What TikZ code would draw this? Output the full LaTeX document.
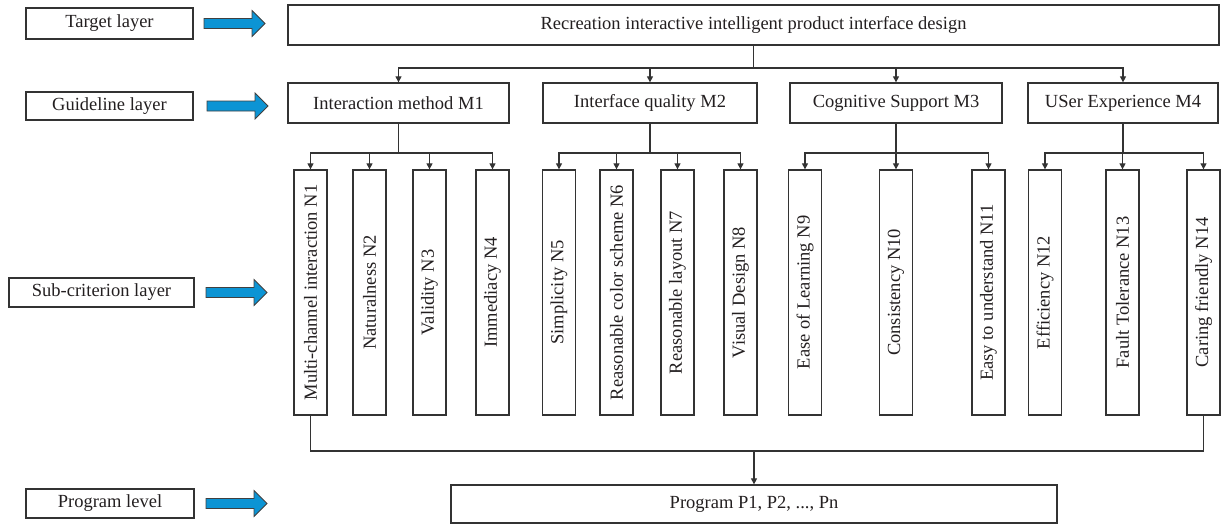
\documentclass[tikz,border=0pt]{standalone}
\usepackage{fontspec}
\setmainfont{Liberation Serif}
\usetikzlibrary{arrows.meta}
\definecolor{ink}{HTML}{231F20}
\definecolor{lineg}{HTML}{333333}
\definecolor{arrblue}{HTML}{0C94D4}
\tikzset{
  box/.style={draw=lineg, line width=1.3pt, rectangle, inner sep=0pt, text=ink,
    font=\fontsize{18.5}{22}\selectfont, align=center},
  nbox/.style={box, minimum width=33pt, minimum height=245pt},
  conn/.style={draw=lineg, line width=1.1pt},
  arr/.style={conn, -{Triangle[length=6pt,width=6pt]}},
  blarrow/.pic={\filldraw[fill=arrblue, draw=black!75, line width=0.8pt]
     (0,-5) -- (48,-5) -- (48,-13) -- (61,0) -- (48,13) -- (48,5) -- (0,5) -- cycle;}
}
\begin{document}
\begin{tikzpicture}[x=1pt,y=-1pt]
\useasboundingbox (0,0) rectangle (1225,525);
% left labels
\node[box, minimum width=167pt, minimum height=31pt] (lt) at (109.5,23.5) {Target layer};
\node[box, minimum width=167pt, minimum height=28pt] (lg) at (109.5,106) {Guideline layer};
\node[box, minimum width=185pt, minimum height=29pt] (ls) at (101.5,292.5) {Sub-criterion layer};
\node[box, minimum width=168pt, minimum height=29pt] (lp) at (110,503.5) {Program level};
\pic at (204,23.5) {blarrow};
\pic at (207,106) {blarrow};
\pic at (206,292.5) {blarrow};
\pic at (206,503.5) {blarrow};
% top
\node[box, minimum width=931pt, minimum height=40pt] (top) at (753.5,25) {Recreation interactive intelligent product interface design};
% guideline
\node[box, minimum width=221pt, minimum height=40pt] (m1) at (398.5,103) {Interaction method M1};
\node[box, minimum width=214pt, minimum height=40pt] (m2) at (650,103) {Interface quality M2};
\node[box, minimum width=212pt, minimum height=40pt] (m3) at (896,103) {Cognitive Support M3};
\node[box, minimum width=190pt, minimum height=40pt] (m4) at (1123,103) {USer Experience M4};
% sub-criteria
\node[nbox] (n1) at (310.5,292.5) {\rotatebox{90}{Multi-channel interaction N1}};
\node[nbox] (n2) at (369.5,292.5) {\rotatebox{90}{Naturalness N2}};
\node[nbox] (n3) at (429.5,292.5) {\rotatebox{90}{Validity N3}};
\node[nbox] (n4) at (492.5,292.5) {\rotatebox{90}{Immediacy N4}};
\node[nbox] (n5) at (559,292.5) {\rotatebox{90}{Simplicity N5}};
\node[nbox] (n6) at (616.5,292.5) {\rotatebox{90}{Reasonable color scheme N6}};
\node[nbox] (n7) at (677.5,292.5) {\rotatebox{90}{Reasonable layout N7}};
\node[nbox] (n8) at (740.5,292.5) {\rotatebox{90}{Visual Design N8}};
\node[nbox] (n9) at (805,292.5) {\rotatebox{90}{Ease of Learning N9}};
\node[nbox] (n10) at (896,292.5) {\rotatebox{90}{Consistency N10}};
\node[nbox] (n11) at (988.5,292.5) {\rotatebox{90}{Easy to understand N11}};
\node[nbox] (n12) at (1045,292.5) {\rotatebox{90}{Efficiency N12}};
\node[nbox] (n13) at (1122.5,292.5) {\rotatebox{90}{Fault Tolerance N13}};
\node[nbox] (n14) at (1203.5,292.5) {\rotatebox{90}{Caring friendly N14}};
% program
\node[box, minimum width=606pt, minimum height=38pt] (prog) at (754,504) {Program P1, P2, ..., Pn};
% connectors top -> M
\coordinate (j0) at (top.south |- 0,68);
\draw[conn] (top.south) -- (j0);
\foreach \m in {m1,m2,m3,m4} \draw[arr] (j0) -| (\m);
% M -> N
\coordinate (j1) at (m1.south |- 0,153);
\coordinate (j2) at (m2.south |- 0,153);
\coordinate (j3) at (m3.south |- 0,153);
\coordinate (j4) at (m4.south |- 0,153);
\draw[conn] (m1) -- (j1);
\draw[conn] (m2) -- (j2);
\draw[conn] (m3) -- (j3);
\draw[conn] (m4) -- (j4);
\foreach \n in {n1,n2,n3,n4} \draw[arr] (j1) -| (\n);
\foreach \n in {n5,n6,n7,n8} \draw[arr] (j2) -| (\n);
\foreach \n in {n9,n10,n11} \draw[arr] (j3) -| (\n);
\foreach \n in {n12,n13,n14} \draw[arr] (j4) -| (\n);
% N -> program
\coordinate (b1) at (n1.south |- 0,451);
\coordinate (b14) at (n14.south |- 0,451);
\coordinate (bm) at (prog.north |- 0,451);
\draw[conn] (n1.south) -- (b1) -- (b14) -- (n14.south);
\draw[arr] (bm) -- (prog);
\end{tikzpicture}
\end{document}
